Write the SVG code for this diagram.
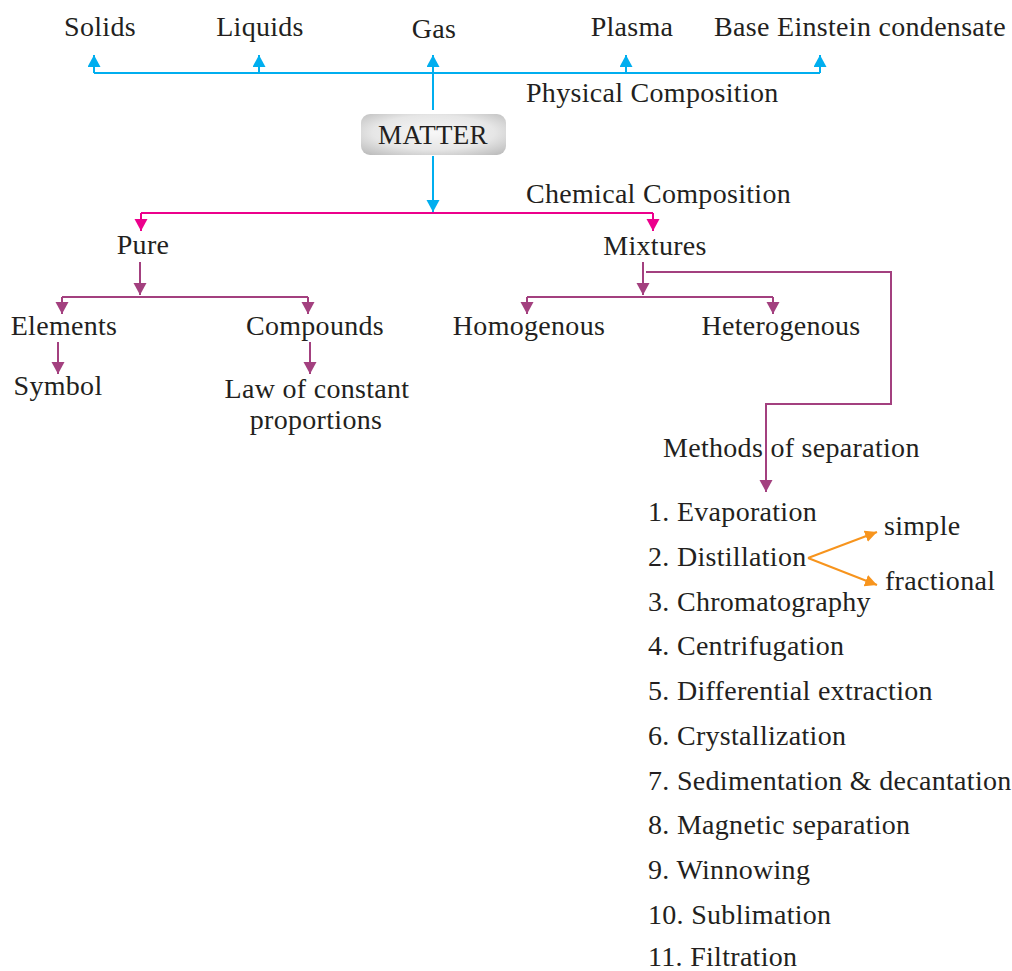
<svg xmlns="http://www.w3.org/2000/svg" width="1012" height="971" viewBox="0 0 1012 971">
<style>
text{font-family:"Liberation Serif","Times New Roman",serif;font-size:28px;fill:#231f20;letter-spacing:0.3px}
.m{text-anchor:middle}
.b{stroke:#00aeef;stroke-width:2;fill:none}
.p{stroke:#ec008c;stroke-width:2;fill:none}
.v{stroke:#a3407f;stroke-width:2;fill:none}
.o{stroke:#f7941d;stroke-width:2;fill:none}
</style>
<defs>
<marker id="ab" markerUnits="userSpaceOnUse" markerWidth="14" markerHeight="14" refX="12" refY="6.5" orient="auto"><path d="M0,0 L12,6.5 L0,13 z" fill="#00aeef"/></marker>
<marker id="ap" markerUnits="userSpaceOnUse" markerWidth="14" markerHeight="14" refX="12" refY="6.5" orient="auto"><path d="M0,0 L12,6.5 L0,13 z" fill="#ec008c"/></marker>
<marker id="av" markerUnits="userSpaceOnUse" markerWidth="14" markerHeight="14" refX="12" refY="6.5" orient="auto"><path d="M0,0 L12,6.5 L0,13 z" fill="#a3407f"/></marker>
<marker id="ao" markerUnits="userSpaceOnUse" markerWidth="14" markerHeight="14" refX="12" refY="6" orient="auto"><path d="M0,0 L12,6 L0,12 z" fill="#f7941d"/></marker>
<radialGradient id="g" cx="0.5" cy="0.45" r="0.7"><stop offset="0" stop-color="#f7f7f7"/><stop offset="0.6" stop-color="#e6e6e6"/><stop offset="1" stop-color="#bdbdbd"/></radialGradient>
</defs>
<g id="connectors">
<path class="b" d="M94,73 H820"/>
<path class="b" d="M94,73 V55" marker-end="url(#ab)"/>
<path class="b" d="M259,73 V55" marker-end="url(#ab)"/>
<path class="b" d="M433,110 V55" marker-end="url(#ab)"/>
<path class="b" d="M626,73 V55" marker-end="url(#ab)"/>
<path class="b" d="M820,73 V55" marker-end="url(#ab)"/>
<path class="b" d="M433,156 V212" marker-end="url(#ab)"/>
<path class="p" d="M141,213 H653"/>
<path class="p" d="M141,213 V231" marker-end="url(#ap)"/>
<path class="p" d="M653,213 V231" marker-end="url(#ap)"/>
<path class="v" d="M140,262 V295" marker-end="url(#av)"/>
<path class="v" d="M62,297 H308"/>
<path class="v" d="M62,297 V314" marker-end="url(#av)"/>
<path class="v" d="M308,297 V314" marker-end="url(#av)"/>
<path class="v" d="M58,342 V374" marker-end="url(#av)"/>
<path class="v" d="M310,342 V374" marker-end="url(#av)"/>
<path class="v" d="M643,262 V295" marker-end="url(#av)"/>
<path class="v" d="M527,297 H773"/>
<path class="v" d="M527,297 V314" marker-end="url(#av)"/>
<path class="v" d="M773,297 V314" marker-end="url(#av)"/>
<path class="v" d="M646,272 H891 V404 H766 V492" marker-end="url(#av)"/>
<path class="o" d="M808,558 L877,532" marker-end="url(#ao)"/>
<path class="o" d="M808,558 L877,585" marker-end="url(#ao)"/>
</g>
<g id="solids"><text class="m" x="100" y="36">Solids</text></g>
<g id="liquids"><text class="m" x="260" y="36">Liquids</text></g>
<g id="gas"><text class="m" x="434" y="38">Gas</text></g>
<g id="plasma"><text class="m" x="632" y="36">Plasma</text></g>
<g id="bec"><text class="m" x="860" y="36">Base Einstein condensate</text></g>
<g id="physical"><text x="526" y="102">Physical Composition</text></g>
<g id="matter"><rect x="361" y="114" width="145" height="41" rx="9" fill="url(#g)"/><text class="m" x="433" y="144" style="font-size:27px">MATTER</text></g>
<g id="chemical"><text x="526" y="203">Chemical Composition</text></g>
<g id="pure"><text class="m" x="143" y="254">Pure</text></g>
<g id="mixtures"><text class="m" x="655" y="255">Mixtures</text></g>
<g id="elements"><text class="m" x="64" y="335">Elements</text></g>
<g id="compounds"><text class="m" x="315" y="335">Compounds</text></g>
<g id="homogenous"><text class="m" x="529" y="335">Homogenous</text></g>
<g id="heterogenous"><text class="m" x="781" y="335">Heterogenous</text></g>
<g id="symbol"><text class="m" x="58" y="395">Symbol</text></g>
<g id="law"><text class="m" x="317" y="398">Law of constant</text><text class="m" x="316" y="429">proportions</text></g>
<g id="methods"><text x="663" y="457">Methods of separation</text></g>
<g id="list">
<text x="648" y="521">1. Evaporation</text>
<text x="648" y="566">2. Distillation</text>
<text x="648" y="611">3. Chromatography</text>
<text x="648" y="655">4. Centrifugation</text>
<text x="648" y="700">5. Differential extraction</text>
<text x="648" y="745">6. Crystallization</text>
<text x="648" y="790">7. Sedimentation &amp; decantation</text>
<text x="648" y="834">8. Magnetic separation</text>
<text x="648" y="879">9. Winnowing</text>
<text x="648" y="924">10. Sublimation</text>
<text x="648" y="966">11. Filtration</text>
</g>
<g id="simple"><text x="884" y="535">simple</text></g>
<g id="fractional"><text x="885" y="590">fractional</text></g>
</svg>
